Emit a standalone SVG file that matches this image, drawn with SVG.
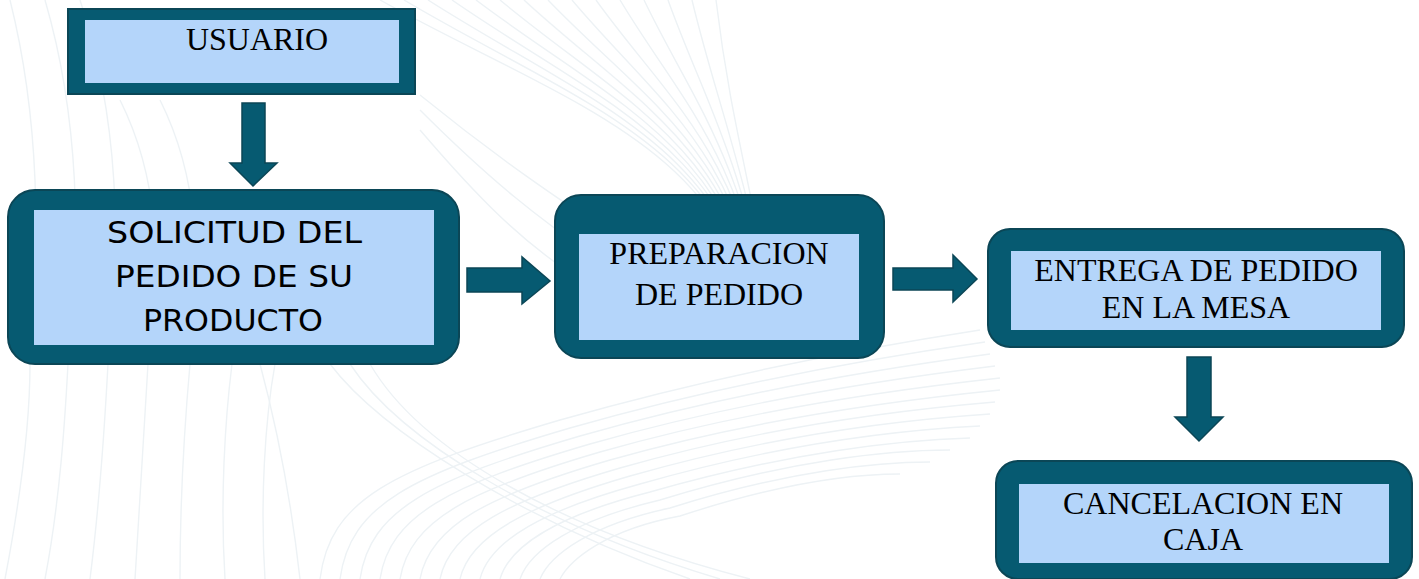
<svg xmlns="http://www.w3.org/2000/svg" width="1419" height="579" viewBox="0 0 1419 579">
<style>
.outer{fill:#065a71;stroke:#0b4656;stroke-width:2}
.inner{fill:#b4d5fa}
.serif{font-family:"Liberation Serif","Times New Roman",serif;font-size:32px;fill:#000;text-anchor:middle}
.sans{font-family:"DejaVu Sans",Verdana,sans-serif;font-size:30px;fill:#000;text-anchor:middle}
.arrow{fill:#065a71;stroke:#0b4656;stroke-width:1.5}
.bg{fill:none;stroke:#edf2f5;stroke-width:1.4}
</style>
<rect width="1419" height="579" fill="#fff"/>
<g id="background">
<path class="bg" d="M380 0 C560 100 740 150 750 330"/>
<path class="bg" d="M404 0 C572 100 740 150 752 330"/>
<path class="bg" d="M428 0 C584 100 740 150 754 330"/>
<path class="bg" d="M452 0 C596 100 740 150 756 330"/>
<path class="bg" d="M476 0 C608 100 740 150 758 330"/>
<path class="bg" d="M500 0 C620 100 740 150 760 330"/>
<path class="bg" d="M524 0 C632 100 740 150 762 330"/>
<path class="bg" d="M548 0 C644 100 740 150 764 330"/>
<path class="bg" d="M572 0 C656 100 740 150 766 330"/>
<path class="bg" d="M596 0 C668 100 740 150 768 330"/>
<path class="bg" d="M620 0 C680 100 740 150 770 330"/>
<path class="bg" d="M644 0 C692 100 740 150 772 330"/>
<path class="bg" d="M668 0 C704 100 740 150 774 330"/>
<path class="bg" d="M692 0 C716 100 740 150 776 330"/>
<path class="bg" d="M716 0 C728 100 742 150 778 330"/>
<path class="bg" d="M420 95 C500 160 560 200 620 240"/>
<path class="bg" d="M420 110 C490 180 540 220 600 260"/>
<path class="bg" d="M420 130 C480 200 520 240 580 280"/>
<path class="bg" d="M10 0 C40 120 40 240 30 360"/>
<path class="bg" d="M45 0 C80 120 80 240 70 360"/>
<path class="bg" d="M80 0 C120 120 120 240 110 360"/>
<path class="bg" d="M120 100 C160 180 160 260 150 360"/>
<path class="bg" d="M160 100 C200 180 200 260 190 360"/>
<path class="bg" d="M5 579 C20 500 30 420 30 364"/>
<path class="bg" d="M45 579 C60 500 65 420 68 364"/>
<path class="bg" d="M90 579 C100 500 105 420 108 364"/>
<path class="bg" d="M135 579 C140 500 145 420 148 364"/>
<path class="bg" d="M180 579 C180 500 185 420 190 364"/>
<path class="bg" d="M225 579 C220 500 225 420 232 364"/>
<path class="bg" d="M265 579 C260 500 265 420 275 364"/>
<path class="bg" d="M300 579 C290 490 275 420 260 364"/>
<path class="bg" d="M320 579 C330 500 390 470 560 420 C700 380 850 350 980 330"/>
<path class="bg" d="M340 579 C350 505 410 475 570 428 C710 388 860 360 985 342"/>
<path class="bg" d="M360 579 C370 510 430 480 580 436 C720 396 870 370 990 354"/>
<path class="bg" d="M380 579 C390 515 450 485 590 444 C730 404 880 380 995 366"/>
<path class="bg" d="M400 579 C410 520 470 490 600 452 C740 412 890 390 1000 378"/>
<path class="bg" d="M420 579 C430 525 490 495 610 460 C750 420 900 400 1000 390"/>
<path class="bg" d="M440 579 C450 530 510 500 620 468 C760 428 900 410 995 402"/>
<path class="bg" d="M460 579 C470 535 530 505 630 476 C770 436 900 420 990 414"/>
<path class="bg" d="M480 579 C490 540 545 510 640 484 C780 444 900 430 980 426"/>
<path class="bg" d="M500 579 C510 545 560 515 650 492 C790 452 900 440 970 438"/>
<path class="bg" d="M520 579 C530 550 575 520 660 500 C790 460 890 450 950 450"/>
<path class="bg" d="M540 579 C550 555 590 525 670 508 C790 470 880 462 930 462"/>
<path class="bg" d="M560 579 C570 560 605 530 680 516 C790 480 860 474 900 474"/>
<path class="bg" d="M330 364 C380 430 520 520 690 579"/>
<path class="bg" d="M350 364 C400 440 540 525 720 579"/>
<path class="bg" d="M370 364 C420 450 560 530 750 579"/>
</g>
<g id="connectors">
<polygon class="arrow" points="242,103 265,103 265,163 277,163 253,186 230,163 242,163"/>
<polygon class="arrow" points="467,268 522,268 522,257 550,281 522,304 522,292 467,292"/>
<polygon class="arrow" points="893,268 953,268 953,255 977,279 953,302 953,290 893,290"/>
<polygon class="arrow" points="1187,357 1211,357 1211,417 1223,417 1199,441 1175,417 1187,417"/>
</g>
<g id="usuario">
<rect class="outer" x="68" y="9" width="347" height="85"/>
<rect class="inner" x="85" y="20" width="314" height="63"/>
<text class="serif" x="257" y="50">USUARIO</text>
</g>
<g id="solicitud">
<rect class="outer" x="8" y="190" width="451" height="174" rx="27"/>
<rect class="inner" x="34" y="210" width="400" height="135"/>
<text class="sans" x="234.5" y="242.5" textLength="255" lengthAdjust="spacingAndGlyphs">SOLICITUD DEL</text>
<text class="sans" x="234" y="286.5" textLength="238" lengthAdjust="spacingAndGlyphs">PEDIDO DE SU</text>
<text class="sans" x="233" y="330.5" textLength="180" lengthAdjust="spacingAndGlyphs">PRODUCTO</text>
</g>
<g id="preparacion">
<rect class="outer" x="555" y="195" width="329" height="163" rx="26"/>
<rect class="inner" x="579" y="234" width="280" height="106"/>
<text class="serif" x="719" y="264">PREPARACION</text>
<text class="serif" x="719" y="305">DE PEDIDO</text>
</g>
<g id="entrega">
<rect class="outer" x="988" y="229" width="416" height="118" rx="22"/>
<rect class="inner" x="1011" y="251" width="370" height="79"/>
<text class="serif" x="1196" y="281">ENTREGA DE PEDIDO</text>
<text class="serif" x="1196" y="318">EN LA MESA</text>
</g>
<g id="cancelacion">
<rect class="outer" x="996" y="461" width="416" height="118" rx="22"/>
<rect class="inner" x="1019" y="484" width="370" height="79"/>
<text class="serif" x="1203" y="514">CANCELACION EN</text>
<text class="serif" x="1203" y="550">CAJA</text>
</g>
</svg>
